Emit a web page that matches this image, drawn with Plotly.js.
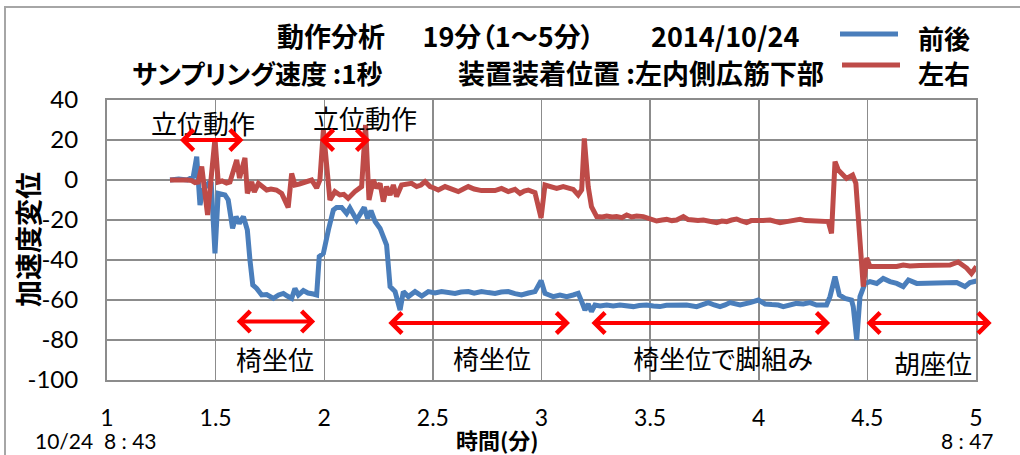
<!DOCTYPE html>
<html>
<head>
<meta charset="utf-8">
<script src="https://cdn.plot.ly/plotly-3.0.1.min.js"></script>
<style>
  html, body { margin: 0; padding: 0; background: #fff; overflow: hidden; }
  #wrap { position: relative; width: 1020px; height: 455px; }
  #chart { position: absolute; left: 0; top: 0; width: 1020px; height: 455px; }
  #chart text { font-feature-settings: "palt" 1; }
  #frame { position: absolute; left: 4px; top: 6px; width: 1100px; height: 600px;
           border: 2px solid #a6a6a6; pointer-events: none; box-sizing: border-box; }
</style>
</head>
<body>
<div id="wrap"><div id="chart"></div><div id="frame"></div></div>
<script>
// ---------------- DATA ----------------
const seriesNames = ['前後', '左右'];

// 前後 (front-back)
const timeFB = [1.29,1.33,1.37,1.397,1.413,1.428,1.443,1.466,1.48,1.497,1.512,1.527,1.543,1.558,1.578,1.594,1.609,1.628,1.646,1.658,1.671,1.689,1.712,1.735,1.75,1.766,1.79,1.812,1.83,1.85,1.865,1.881,1.904,1.925,1.95,1.965,1.977,1.996,2.019,2.042,2.057,2.08,2.103,2.118,2.149,2.184,2.2,2.215,2.234,2.257,2.287,2.303,2.326,2.349,2.364,2.387,2.418,2.449,2.479,2.51,2.54,2.57,2.602,2.63,2.663,2.69,2.724,2.755,2.786,2.815,2.847,2.878,2.908,2.94,2.97,2.998,3.016,3.035,3.054,3.085,3.116,3.146,3.169,3.185,3.2,3.215,3.23,3.246,3.27,3.3,3.33,3.361,3.39,3.423,3.45,3.484,3.515,3.545,3.575,3.607,3.638,3.668,3.714,3.74,3.768,3.795,3.822,3.845,3.868,3.914,3.94,3.96,3.998,4.029,4.06,4.09,4.113,4.145,4.174,4.205,4.236,4.266,4.312,4.328,4.351,4.371,4.397,4.427,4.435,4.451,4.466,4.489,4.512,4.543,4.573,4.604,4.635,4.665,4.689,4.727,4.788,4.85,4.88,4.911,4.949,4.972,5.003];
const valFB = [0,0.5,0,1.7,11.7,-12.5,-5,-1.7,-2,-36.7,-6.7,-7,-7.5,-10,-24.2,-18.3,-21.7,-18.3,-25,-40,-52.5,-54.2,-57.5,-57.3,-58.5,-59.2,-57.5,-56.7,-58,-59.2,-54.2,-57.5,-55.3,-56.5,-57,-57.5,-38.3,-36.7,-25,-15,-13.7,-13.7,-16.7,-14,-20,-13.7,-19.2,-15.3,-20.8,-24.2,-32.5,-53.3,-55.8,-65,-55.8,-58.3,-55.8,-58,-55.8,-56.5,-55.8,-56.2,-56.7,-56,-55.8,-56.6,-55.8,-56.3,-56.7,-56,-55.8,-56.8,-57.5,-56.5,-55.8,-50.3,-56.7,-57.5,-58.3,-57.5,-58.3,-57.5,-56.7,-60.8,-65,-62,-65.8,-62.5,-63,-62.5,-63,-62.5,-62.8,-63.3,-62.8,-62.5,-63,-63.3,-62.6,-62.5,-63,-62.5,-63.3,-62.5,-61.3,-62.5,-63.3,-62.5,-61.3,-62.5,-62,-61.3,-60,-62,-62.3,-62.5,-63.3,-62.5,-61.7,-62,-61.3,-62.5,-62.5,-58.3,-48.3,-57.5,-59.2,-60,-63.3,-80,-58.3,-51.7,-50.8,-51.7,-49.2,-50.8,-51.7,-53.3,-50,-51.7,-51.7,-51.6,-51.7,-51.3,-53.3,-51.3,-50.5];

// 左右 (left-right)
const timeLR = [1.29,1.33,1.37,1.39,1.405,1.42,1.436,1.463,1.497,1.512,1.53,1.55,1.566,1.597,1.61,1.635,1.646,1.666,1.678,1.697,1.715,1.735,1.755,1.78,1.804,1.834,1.85,1.865,1.885,1.904,1.925,1.942,1.965,1.98,1.996,2.026,2.049,2.072,2.09,2.11,2.141,2.172,2.19,2.206,2.226,2.241,2.257,2.272,2.287,2.303,2.318,2.333,2.356,2.38,2.402,2.425,2.445,2.464,2.487,2.505,2.525,2.556,2.585,2.617,2.64,2.663,2.69,2.724,2.755,2.786,2.816,2.847,2.878,2.901,2.92,2.939,2.97,2.998,3.016,3.045,3.07,3.1,3.125,3.146,3.169,3.185,3.197,3.215,3.23,3.254,3.28,3.3,3.325,3.346,3.37,3.392,3.415,3.438,3.469,3.5,3.53,3.555,3.576,3.6,3.622,3.653,3.675,3.699,3.72,3.745,3.775,3.806,3.83,3.852,3.875,3.898,3.92,3.944,3.965,3.99,4.02,4.052,4.075,4.098,4.128,4.16,4.19,4.215,4.236,4.27,4.297,4.32,4.335,4.351,4.366,4.385,4.404,4.432,4.447,4.481,4.497,4.512,4.535,4.558,4.58,4.604,4.635,4.665,4.696,4.74,4.788,4.83,4.88,4.918,4.957,4.979,5.002];
const valLR = [0,0.3,0,-0.3,-1.3,-1,6.7,-17.5,20.8,-1,-0.5,-1.5,-1,10,1,11,-6.7,-1,-6,-1.7,-3.5,-5,-4.5,-5,-6.7,-13.7,3.3,-2.5,-2,-1.3,-0.5,0,-4,0,25,-10,-5.8,-7.5,-7.2,-9.2,-5.8,-3.3,27.5,-10,0,-4,-1.7,-10.8,-3.3,-7.5,-2.5,-8.3,-2.5,-2,-1.7,-3.3,-2.5,-0.8,-3.3,-4,-5,-3.3,-4.5,-5.8,-4.5,-3.3,-4.5,-5.3,-5.3,-5.3,-4.2,-5.8,-4.7,-6.7,-5.5,-5,-6.3,-19,-2.5,-3.5,-4.2,-3.3,-4,-4.7,-7.5,-5,20.8,-3.3,-13.3,-18.3,-18.5,-18,-18.5,-18.3,-18.8,-17.5,-18.5,-18,-18.3,-19.5,-20.5,-20,-19.7,-20.3,-20,-18.3,-19.8,-20,-20.3,-20,-20.6,-21.3,-20.5,-20.8,-20,-19.5,-20.5,-21.3,-20.3,-20,-20.2,-20,-20.5,-21.3,-20.8,-20.3,-19.7,-20.3,-20.3,-20.3,-20.3,-20.8,-26.7,9.2,5,2.5,0.8,2.5,-1.7,-53.3,-39,-43.3,-43.2,-43,-43.5,-43,-43.2,-42.5,-43,-42.8,-42.5,-42.5,-42.5,-41,-44,-46.7,-43.3];

// axis ticks
const xTicks = [1, 1.5, 2, 2.5, 3, 3.5, 4, 4.5, 5];
const xTickText = ['1', '1.5', '2', '2.5', '3', '3.5', '4', '4.5', '5'];
const yTicks = [40, 20, 0, -20, -40, -60, -80, -100];
const yTickText = ['40', '20', '0', '-20', '-40', '-60', '-80', '-100'];

// phase labels (time, value) and double-headed arrows (start, end, value)
const phaseLabels = ['立位動作', '立位動作', '椅坐位', '椅坐位', '椅坐位で脚組み', '胡座位'];
const phaseLabelX = [1.444, 2.187, 1.773, 2.772, 3.835, 4.801];
const phaseLabelY = [29, 31.5, -89, -88.5, -88.5, -91];
const arrowStart = [1.336, 1.98, 1.597, 2.295, 3.23, 4.496];
const arrowEnd = [1.635, 2.218, 1.965, 3.138, 4.335, 5.079];
const arrowY = [20, 20, -70.8, -71.5, -71.5, -71.5];

// text
const titleMain = '動作分析';
const titleRange = '19分（1～5分）';
const titleDate = '2014/10/24';
const subSampling = 'サンプリング速度 :1秒';
const subPosition = '装置装着位置 :左内側広筋下部';
const yTitle = '加速度変位';
const xTitle = '時間(分)';
const startStamp = '10/24  8 : 43';
const endStamp = '8 : 47';

// ---------------- STYLE / LAYOUT ----------------
const L = 107, R = 976, T = 100, B = 380;
const W = R - L, H = B - T;
const px = v => (v - L) / W;
const py = v => (B - v) / H;

const blue = '#4A7EBB';
const red = '#BE4B48';
const gridC = '#8c8c8c';
const cjk = '"Noto Sans CJK JP", "Noto Sans", sans-serif';
const num = 'Lato, "Liberation Sans", sans-serif';

const traces = [
  { x: timeFB, y: valFB, name: seriesNames[0], type: 'scatter', mode: 'lines',
    line: { color: blue, width: 5 } },
  { x: timeLR, y: valLR, name: seriesNames[1], type: 'scatter', mode: 'lines',
    line: { color: red, width: 5 } }
];

const annotations = [];
function paperText(text, x, y, size, bold, xanchor, family) {
  annotations.push({
    xref: 'paper', yref: 'paper', x: px(x), y: py(y), xanchor: xanchor || 'left', yanchor: 'middle',
    text: bold ? '<b>' + text + '</b>' : text, showarrow: false,
    font: { family: family || cjk, size: size, color: '#000' }
  });
}
paperText(titleMain, 275, 36, 27, true, 'left');
paperText(titleRange, 610, 36, 27, true, 'right');
paperText(titleDate, 801, 36, 27, true, 'right');
paperText(subSampling, 124, 73, 26, true, 'left');
paperText(subPosition, 826, 73, 27, true, 'right');
paperText(seriesNames[0], 916, 38, 26, true, 'left');
paperText(seriesNames[1], 916, 73, 26, true, 'left');
paperText(xTitle, 497, 439, 22, true, 'center');
paperText(startStamp, 33, 440, 21, false, 'left', num);
paperText(endStamp, 996, 440, 21, false, 'right', num);

// y-axis title (rotated)
annotations.push({
  xref: 'paper', yref: 'paper', x: px(27), y: py(240), xanchor: 'center', yanchor: 'middle',
  text: '<b>' + yTitle + '</b>', textangle: -90, showarrow: false,
  font: { family: cjk, size: 27, color: '#000' }
});

phaseLabels.forEach((t, i) => {
  annotations.push({
    x: phaseLabelX[i], y: phaseLabelY[i], xref: 'x', yref: 'y', text: t, showarrow: false,
    xanchor: 'center', yanchor: 'middle', font: { family: cjk, size: 26, color: '#000' }
  });
});
arrowStart.forEach((s, i) => {
  annotations.push({
    x: s, y: arrowY[i], ax: arrowEnd[i], ay: arrowY[i], xref: 'x', yref: 'y', axref: 'x', ayref: 'y',
    text: '', showarrow: true, arrowside: 'end+start', arrowhead: 4, startarrowhead: 4,
    arrowsize: 1, startarrowsize: 1, arrowwidth: 4, arrowcolor: '#FF0000', standoff: 0, startstandoff: 0
  });
});

const shapes = [
  { type: 'line', xref: 'paper', yref: 'paper', x0: px(840), x1: px(898), y0: py(34), y1: py(34),
    line: { color: blue, width: 5 } },
  { type: 'line', xref: 'paper', yref: 'paper', x0: px(842), x1: px(900), y0: py(65), y1: py(65),
    line: { color: red, width: 5 } }
];

const layout = {
  width: 1020, height: 455,
  margin: { l: L, r: 1020 - R, t: T, b: 455 - B, pad: 0 },
  paper_bgcolor: 'rgba(0,0,0,0)', plot_bgcolor: '#fff',
  showlegend: false,
  xaxis: {
    range: [1, 5], tickvals: xTicks, ticktext: xTickText, showgrid: true, gridcolor: gridC, gridwidth: 1.5,
    zeroline: false, showline: true, mirror: true, linecolor: gridC, linewidth: 2, ticks: '',
    ticklabelstandoff: 16, tickfont: { family: num, size: 23, color: '#000' }
  },
  yaxis: {
    range: [-100, 40], tickvals: yTicks, ticktext: yTickText, showgrid: true, gridcolor: gridC, gridwidth: 1.5,
    zeroline: false, showline: true, mirror: true, linecolor: gridC, linewidth: 2, ticks: '',
    ticklabelstandoff: 22, tickfont: { family: num, size: 24, color: '#000' }
  },
  annotations: annotations,
  shapes: shapes
};

Plotly.newPlot('chart', traces, layout, { displayModeBar: false, staticPlot: true });
</script>
</body>
</html>
